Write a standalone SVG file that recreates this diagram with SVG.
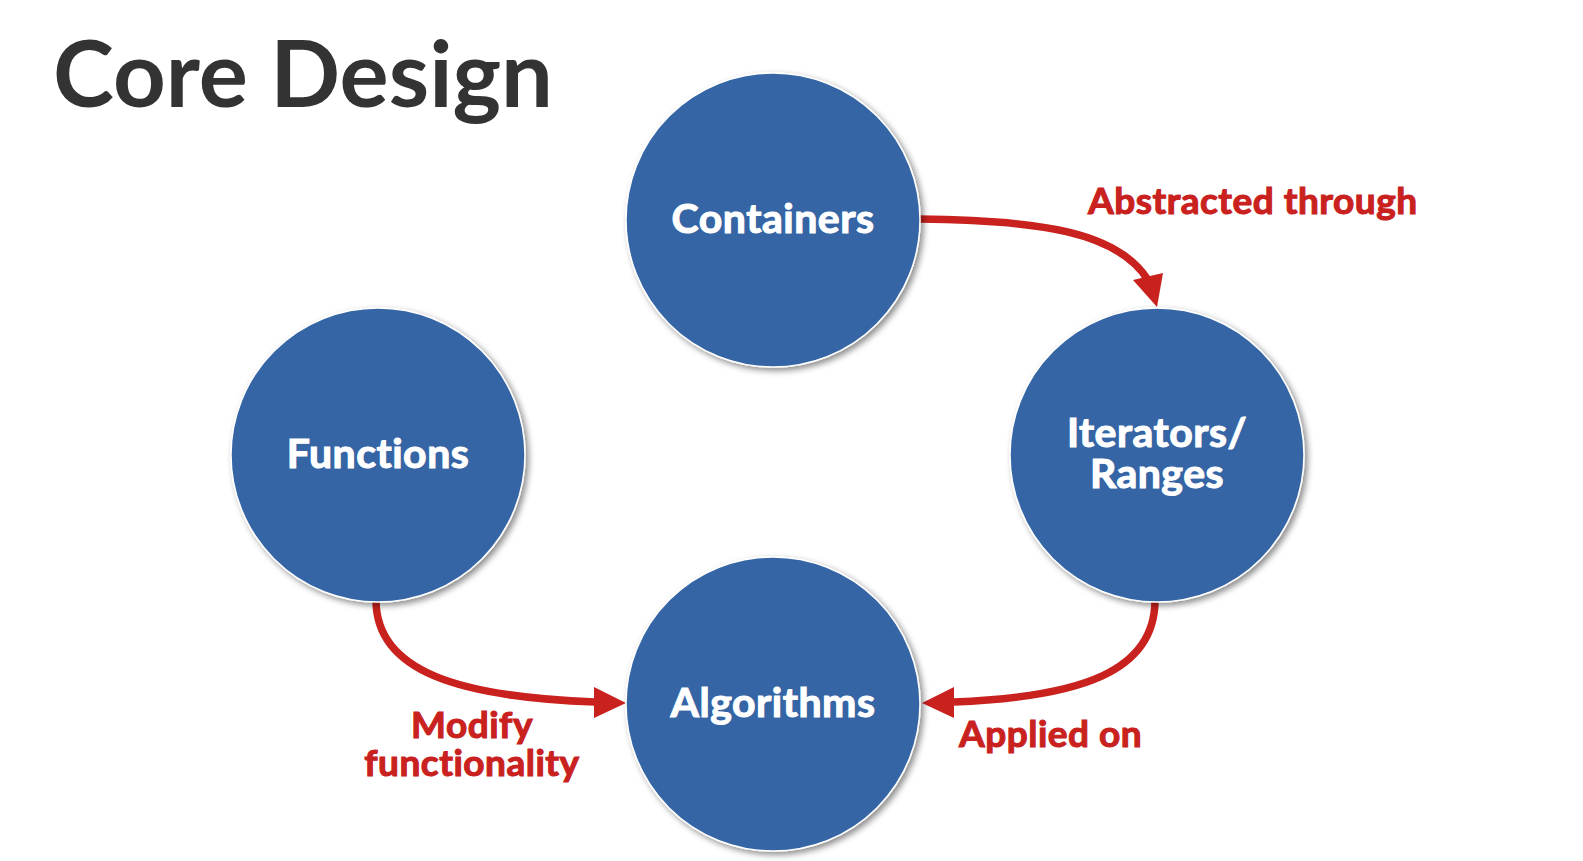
<svg xmlns="http://www.w3.org/2000/svg" width="1583" height="861" viewBox="0 0 1583 861">
  <style>
    .title { font-family: Lato, "Liberation Sans", sans-serif; font-weight: 700; font-size: 92px; fill: #333333; }
    .node circle { fill: #3465a4; stroke: #ffffff; stroke-width: 1.5; filter: url(#shadow); }
    .node text { font-family: Lato, "Liberation Sans", sans-serif; font-weight: 700; font-size: 41px; fill: #ffffff; stroke: #ffffff; stroke-width: 1.1; letter-spacing: 0.5px; text-anchor: middle; }
    .edge { fill: none; stroke: #c9211e; stroke-width: 7.5; }
    .head { fill: #c9211e; }
    .label { font-family: Lato, "Liberation Sans", sans-serif; font-weight: 700; font-size: 37px; fill: #c9211e; stroke: #c9211e; stroke-width: 1.1; letter-spacing: 0.5px; }
  </style>
  <defs>
    <filter id="shadow" x="-20%" y="-20%" width="150%" height="150%">
      <feDropShadow dx="3" dy="3" stdDeviation="3" flood-color="#000000" flood-opacity="0.45"/>
    </filter>
  </defs>

  <rect width="1583" height="861" fill="#ffffff"/>

  <text class="title" x="53" y="107">Core Design</text>

  <!-- connectors -->
  <g id="connectors">
    <path class="edge" d="M918,219 C1040,220 1118,232 1148,280"/>
    <polygon class="head" points="1157,307 1133,280 1163,273"/>

    <path class="edge" d="M1155,600 C1155,672 1080,697 954,702"/>
    <polygon class="head" points="922,703 954,687 954,718"/>

    <path class="edge" d="M376,600 C376,672 460,697 595,702"/>
    <polygon class="head" points="626,703 594,687 594,718"/>

    <text class="label" x="1088" y="214">Abstracted through</text>
    <text class="label" x="959" y="747">Applied on</text>
    <text class="label" x="472" y="738" text-anchor="middle">Modify</text>
    <text class="label" x="472" y="776" text-anchor="middle">functionality</text>
  </g>

  <g id="containers" class="node">
    <circle cx="773" cy="220" r="147"/>
    <text x="773" y="233">Containers</text>
  </g>

  <g id="iterators" class="node">
    <circle cx="1157" cy="455" r="147"/>
    <text x="1157" y="447">Iterators/</text>
    <text x="1157" y="488">Ranges</text>
  </g>

  <g id="functions" class="node">
    <circle cx="378" cy="455" r="147"/>
    <text x="378" y="468">Functions</text>
  </g>

  <g id="algorithms" class="node">
    <circle cx="773" cy="704" r="147"/>
    <text x="773" y="717">Algorithms</text>
  </g>
</svg>
